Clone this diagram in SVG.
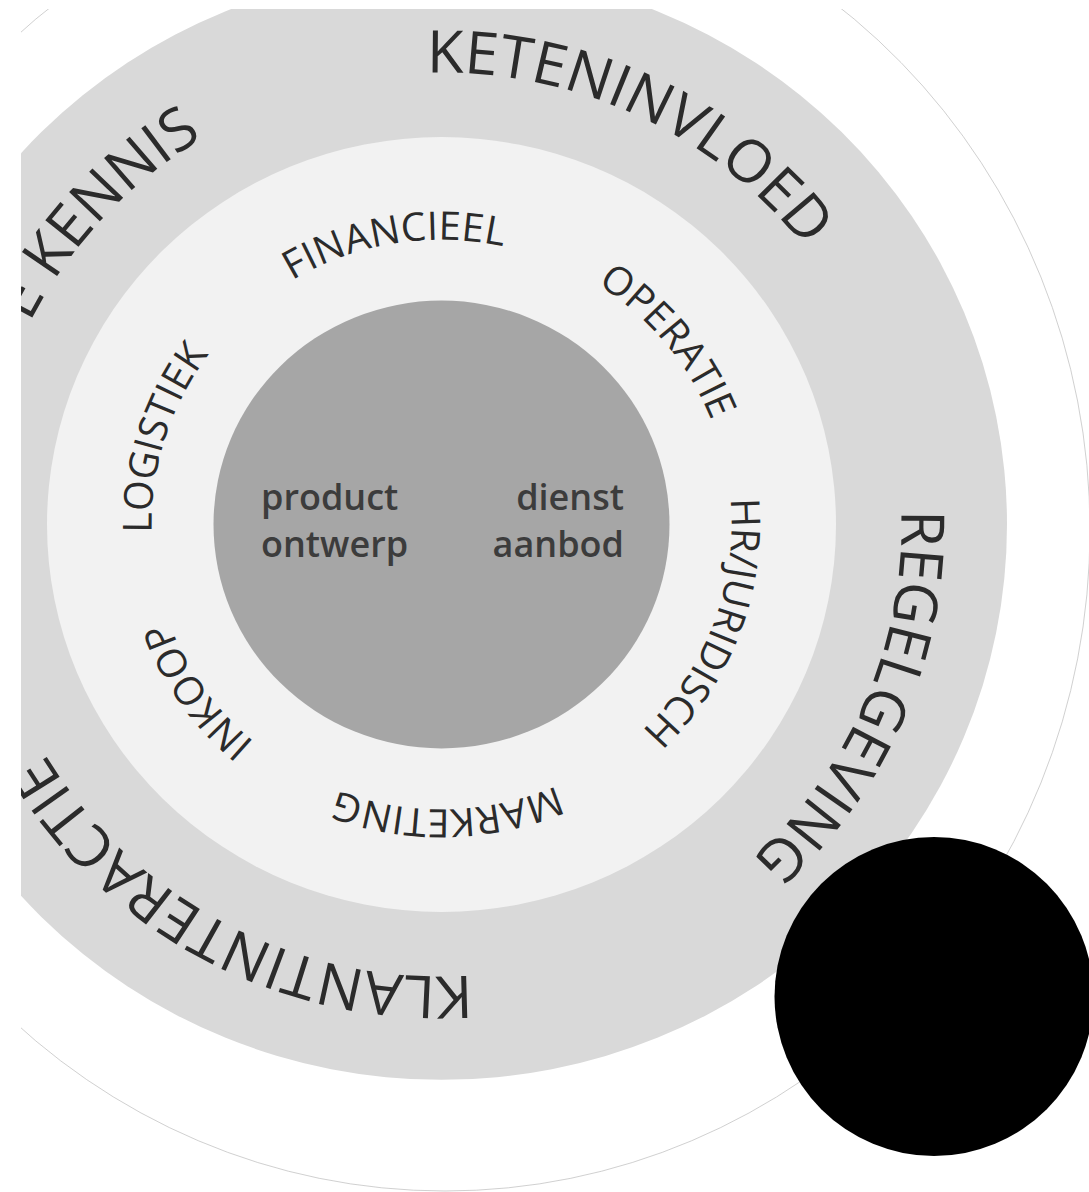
<svg xmlns="http://www.w3.org/2000/svg" xmlns:xlink="http://www.w3.org/1999/xlink" width="1089" height="1192" viewBox="0 0 1089 1192">
  <style>
    .outer { font-family: "Open Sans", "Noto Sans", sans-serif; font-size: 60px; fill: #2b2b2b; }
    .mid { font-family: "Open Sans", "Noto Sans", sans-serif; font-size: 40px; fill: #2b2b2b; }
    .core { font-family: "Open Sans", "Noto Sans", sans-serif; font-size: 36px; font-weight: 600; fill: #3c3c3c; }
  </style>
  <defs>
    <clipPath id="crop">
      <rect x="21" y="9" width="1068" height="1183"/>
    </clipPath>
    <path id="outerPath" d="M -460,0 A 460,460 0 1 1 460,0 A 460,460 0 1 1 -460,0"/>
    <path id="midPath" d="M -290,0 A 290,290 0 1 1 290,0 A 290,290 0 1 1 -290,0"/>
  </defs>
  <rect width="1089" height="1192" fill="#ffffff"/>
  <g clip-path="url(#crop)">
    <ellipse id="boundary" cx="445" cy="530" rx="645" ry="661" fill="none" stroke="#c4c4c4" stroke-width="0.8"/>
    <g transform="translate(441.5,524.5) scale(1,0.982)">
      <g id="ring-outer">
        <circle r="565.5" fill="#d9d9d9"/>
        <text class="outer" text-anchor="middle"><textPath href="#outerPath" startOffset="924.9">KETENINVLOED</textPath></text>
        <text class="outer" text-anchor="middle"><textPath href="#outerPath" startOffset="1629">REGELGEVING</textPath></text>
        <text class="outer" text-anchor="middle"><textPath href="#outerPath" startOffset="2391.3">KLANTINTERACTIE</textPath></text>
        <text class="outer" text-anchor="end"><textPath href="#outerPath" startOffset="472">E KENNIS</textPath></text>
      </g>
      <g id="ring-middle">
        <circle r="394.5" fill="#f2f2f2"/>
        <text class="mid" text-anchor="middle"><textPath href="#midPath" startOffset="408">FINANCIEEL</textPath></text>
        <text class="mid" text-anchor="middle"><textPath href="#midPath" startOffset="711">OPERATIE</textPath></text>
        <text class="mid" text-anchor="middle"><textPath href="#midPath" startOffset="1015">HR/JURIDISCH</textPath></text>
        <text class="mid" text-anchor="middle"><textPath href="#midPath" startOffset="1360">MARKETING</textPath></text>
        <text class="mid" text-anchor="middle"><textPath href="#midPath" startOffset="1645">INKOOP</textPath></text>
        <text class="mid" text-anchor="middle"><textPath href="#midPath" startOffset="88.6">LOGISTIEK</textPath></text>
      </g>
      <g id="core">
        <circle r="228" fill="#a6a6a6"/>
      </g>
    </g>
    <g id="core-labels">
      <text class="core" x="261" y="510">product</text>
      <text class="core" x="261" y="557">ontwerp</text>
      <text class="core" x="624" y="510" text-anchor="end">dienst</text>
      <text class="core" x="624" y="557" text-anchor="end">aanbod</text>
    </g>
  </g>
  <g id="connectors"/>
  <circle id="black-dot" cx="934" cy="996.5" r="159.5" fill="#000000"/>
</svg>
